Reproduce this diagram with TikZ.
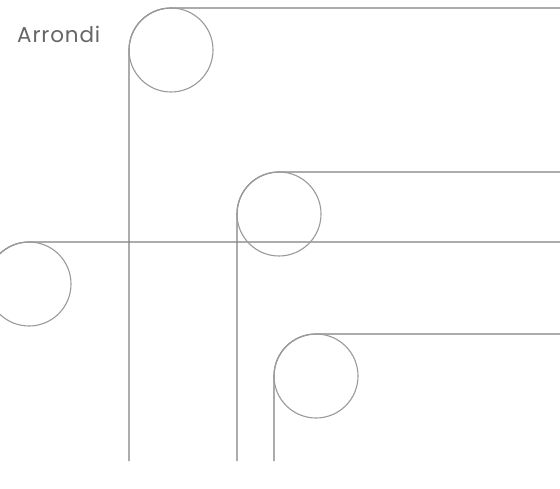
\documentclass[tikz,border=0pt]{standalone}
\usepackage{fontspec}
\setmainfont{Poppins}
\definecolor{linegray}{HTML}{808080}
\definecolor{circgray}{HTML}{9A9A9A}
\definecolor{textgray}{HTML}{666666}
\begin{document}
\begin{tikzpicture}[x=1pt,y=-1pt,
  track/.style={draw=linegray,line width=1.2pt,rounded corners=42pt},
  marker/.style={circle,draw=circgray,line width=1.1pt,minimum size=84pt,inner sep=0pt},
  label/.style={text=textgray,font=\fontsize{21.5}{25}\selectfont\addfontfeatures{LetterSpace=4},anchor=base west,inner sep=0pt}]
\useasboundingbox (0,0) rectangle (560,489);
\clip (0,0) rectangle (560,489);
% coordinates
\coordinate (a0) at (129,461); \coordinate (a1) at (129,8); \coordinate (a2) at (561,8);
\coordinate (b0) at (237,461); \coordinate (b1) at (237,172); \coordinate (b2) at (561,172);
\coordinate (c0) at (-13,330); \coordinate (c1) at (-13,242); \coordinate (c2) at (561,242);
\coordinate (d0) at (274,461); \coordinate (d1) at (274,334); \coordinate (d2) at (561,334);
\draw[track] (a0) -- (a1) -- (a2);
\draw[track] (b0) -- (b1) -- (b2);
\draw[track] (c0) -- (c1) -- (c2);
\draw[track] (d0) -- (d1) -- (d2);
\node[marker] (ca) at (171,50) {};
\node[marker] (cb) at (279,214) {};
\node[marker] (cc) at (29,284) {};
\node[marker] (cd) at (316,376) {};
\node[label] (t) at (17,43) {Arrondi};
\end{tikzpicture}
\end{document}
